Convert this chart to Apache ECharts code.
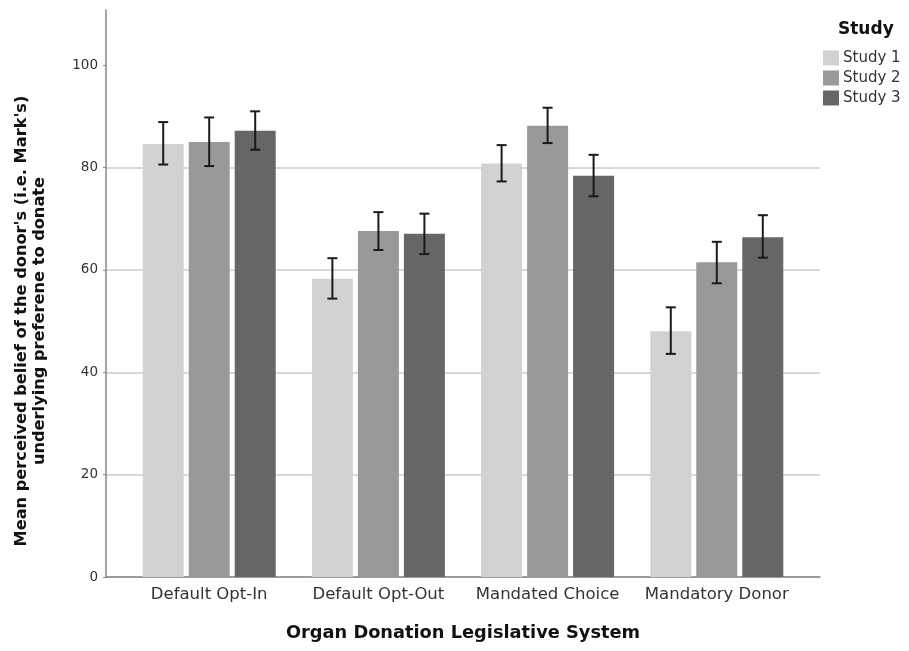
<!DOCTYPE html>
<html>
<head>
<meta charset="utf-8">
<script src="https://cdn.jsdelivr.net/npm/echarts@6/dist/echarts.min.js"></script>
<style>
html,body{margin:0;padding:0;background:#fff;}
#chart{width:909px;height:651px;}
</style>
</head>
<body>
<div id="chart"></div>
<script>
// ---- data ----
const categories = ['Default Opt-In', 'Default Opt-Out', 'Mandated Choice', 'Mandatory Donor'];
const seriesNames = ['Study 1', 'Study 2', 'Study 3'];
const study1 = [84.6, 58.3, 80.8, 48.0];
const study2 = [85.0, 67.6, 88.2, 61.5];
const study3 = [87.2, 67.1, 78.4, 66.4];
const study1Low = [80.6, 54.4, 77.3, 43.6];
const study1High = [88.9, 62.3, 84.4, 52.7];
const study2Low = [80.3, 63.9, 84.8, 57.4];
const study2High = [89.8, 71.3, 91.7, 65.5];
const study3Low = [83.5, 63.1, 74.4, 62.4];
const study3High = [91.0, 71.0, 82.5, 70.7];
const yTicks = [0, 20, 40, 60, 80, 100];

const colors = ['#d2d2d2', '#999999', '#666666'];
const values = [study1, study2, study3];
const lows = [study1Low, study2Low, study3Low];
const highs = [study1High, study2High, study3High];
const catIndex = categories.map((c, i) => i);

const FONT = 'DejaVu Sans';
const chart = echarts.init(document.getElementById('chart'), null, {renderer: 'canvas'});

const BAR_W = 41, BAR_GAP_PX = 5;

function errorSeries(k) {
  const data = catIndex.map(i => [i, lows[k][i], highs[k][i]]);
  return {
    type: 'custom',
    name: seriesNames[k] + ' CI',
    z: 10,
    silent: true,
    data: data,
    encode: {x: 0, y: [1, 2]},
    renderItem: function (params, api) {
      const xi = api.value(0);
      const off = (k - 1) * (BAR_W + BAR_GAP_PX);
      const lo = api.coord([xi, api.value(1)]);
      const hi = api.coord([xi, api.value(2)]);
      const x = lo[0] + off;
      const cap = 5;
      const st = {stroke: '#1a1a1a', lineWidth: 2};
      return {
        type: 'group',
        children: [
          {type: 'line', shape: {x1: x, y1: lo[1], x2: x, y2: hi[1]}, style: st},
          {type: 'line', shape: {x1: x - cap, y1: lo[1], x2: x + cap, y2: lo[1]}, style: st},
          {type: 'line', shape: {x1: x - cap, y1: hi[1], x2: x + cap, y2: hi[1]}, style: st}
        ]
      };
    }
  };
}

const barSeries = seriesNames.map((n, k) => ({
  type: 'bar',
  name: n,
  data: catIndex.map(i => [i, values[k][i]]),
  barWidth: BAR_W,
  barGap: (BAR_GAP_PX / BAR_W * 100) + '%',
  itemStyle: {color: colors[k]},
  emphasis: {disabled: true}
}));

const option = {
  animation: false,
  backgroundColor: '#ffffff',
  textStyle: {fontFamily: FONT},
  title: {
    text: 'Study',
    left: 838,
    top: 21,
    padding: 0,
    textStyle: {fontFamily: FONT, fontWeight: 'bold', fontSize: 17, color: '#111'}
  },
  legend: {
    data: seriesNames,
    orient: 'vertical',
    left: 823,
    top: 50.5,
    padding: 0,
    itemWidth: 16,
    itemHeight: 15,
    itemGap: 5,
    icon: 'rect',
    textStyle: {fontFamily: FONT, fontSize: 15, color: '#333', lineHeight: 15, padding: [0, 0, 0, -1]},
    selectedMode: false
  },
  grid: {left: 106, right: 89, top: 10, bottom: 74, containLabel: false},
  xAxis: {
    type: 'value',
    min: -0.61,
    max: 3.61,
    name: 'Organ Donation Legislative System',
    nameLocation: 'middle',
    nameGap: 47,
    nameTextStyle: {fontFamily: FONT, fontWeight: 'bold', fontSize: 17.8, color: '#111'},
    axisLine: {show: true, onZero: false, lineStyle: {color: '#888', width: 1.5}},
    axisTick: {show: false},
    splitLine: {show: false},
    axisLabel: {
      fontFamily: FONT, fontSize: 16.5, color: '#333', margin: 9,
      customValues: catIndex,
      formatter: v => categories[Math.round(v)]
    }
  },
  yAxis: {
    type: 'value',
    min: 0,
    max: 110.8,
    interval: 20,
    axisLine: {show: true, onZero: false, lineStyle: {color: '#888', width: 1.5}},
    axisTick: {show: true, length: 3, lineStyle: {color: '#888'}, customValues: yTicks},
    axisLabel: {fontFamily: FONT, fontSize: 13.5, color: '#333', margin: 8, customValues: yTicks},
    splitLine: {show: true, showMaxLine: false, lineStyle: {color: '#cccccc', width: 1.5}}
  },
  graphic: [{
    type: 'text',
    x: 31,
    y: 321,
    rotation: Math.PI / 2,
    style: {
      text: "Mean perceived belief of the donor's (i.e. Mark's)\nunderlying preferene to donate",
      fontFamily: FONT,
      fontWeight: 'bold',
      fontSize: 16.2,
      lineHeight: 18,
      fill: '#111',
      align: 'center',
      verticalAlign: 'middle'
    }
  }],
  series: barSeries.concat([errorSeries(0), errorSeries(1), errorSeries(2)])
};
chart.setOption(option);
</script>
</body>
</html>
